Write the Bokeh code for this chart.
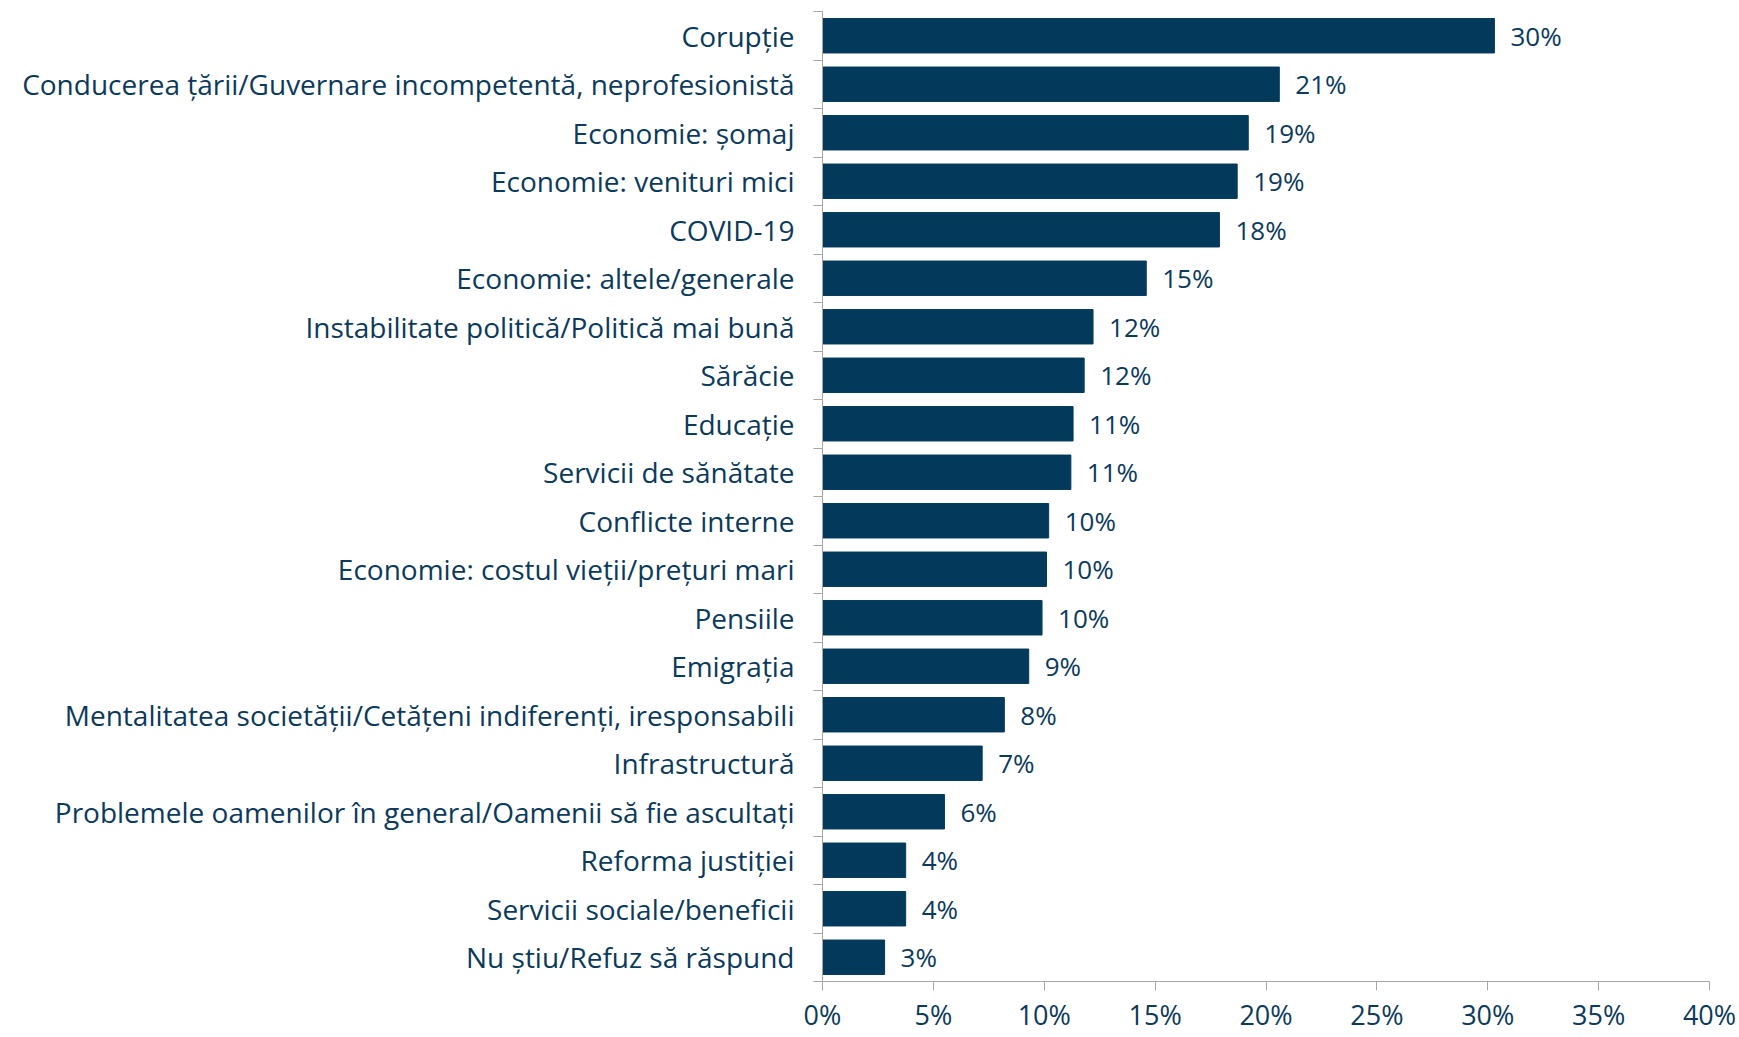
from bokeh.plotting import figure
from bokeh.models import ColumnDataSource, FixedTicker, Range1d, LinearAxis
from bokeh.core.properties import value
from bokeh.embed import file_html
from bokeh.resources import INLINE

categories = [
    "Corupție",
    "Conducerea țării/Guvernare incompetentă, neprofesionistă",
    "Economie: șomaj",
    "Economie: venituri mici",
    "COVID-19",
    "Economie: altele/generale",
    "Instabilitate politică/Politică mai bună",
    "Sărăcie",
    "Educație",
    "Servicii de sănătate",
    "Conflicte interne",
    "Economie: costul vieții/prețuri mari",
    "Pensiile",
    "Emigrația",
    "Mentalitatea societății/Cetățeni indiferenți, iresponsabili",
    "Infrastructură",
    "Problemele oamenilor în general/Oamenii să fie ascultați",
    "Reforma justiției",
    "Servicii sociale/beneficii",
    "Nu știu/Refuz să răspund",
]
values = [30.3, 20.6, 19.2, 18.7, 17.9, 14.6, 12.2, 11.8, 11.3, 11.2,
          10.2, 10.1, 9.9, 9.3, 8.2, 7.2, 5.5, 3.75, 3.75, 2.8]
value_labels = ["30%", "21%", "19%", "19%", "18%", "15%", "12%", "12%", "11%", "11%",
                "10%", "10%", "10%", "9%", "8%", "7%", "6%", "4%", "4%", "3%"]
x_ticks = [0, 5, 10, 15, 20, 25, 30, 35, 40]

n = len(categories)
ypos = [n - i - 0.5 for i in range(n)]

FONT = "Open Sans"
BAR = "#033A5C"
TXT = "#0B3A5C"
AX = "#A6A6A6"

src = ColumnDataSource(dict(y=ypos, v=values, lab=value_labels, cat=categories))

p = figure(width=1739, height=1037, output_backend="svg", toolbar_location=None,
           x_range=Range1d(0, 40), y_range=Range1d(0, n),
           min_border_left=822, min_border_right=30, min_border_top=11, min_border_bottom=56,
           x_axis_location=None, y_axis_location=None)
p.outline_line_color = None
p.xgrid.visible = False
p.ygrid.visible = False
p.background_fill_color = "white"

p.hbar(y="y", left=0, right="v", height=0.71, source=src, fill_color=BAR, line_color=BAR)
p.text(x="v", y="y", text="lab", source=src, x_offset=16, text_baseline="middle",
       text_align="left", text_font=value(FONT), text_font_size="26px", text_color=TXT)

xa = LinearAxis(ticker=FixedTicker(ticks=x_ticks))
xa.major_label_overrides = {t: f"{t}%" for t in x_ticks}
xa.axis_line_color = AX
xa.major_tick_line_color = AX
xa.major_tick_out = 9
xa.major_tick_in = 0
xa.minor_tick_line_color = None
xa.major_label_standoff = 5
xa.major_label_text_font = FONT
xa.major_label_text_font_size = "27px"
xa.major_label_text_color = TXT
p.add_layout(xa, "below")

ya = LinearAxis(ticker=FixedTicker(ticks=ypos, minor_ticks=list(range(n + 1))))
ya.major_label_overrides = {y: c for y, c in zip(ypos, categories)}
ya.axis_line_color = AX
ya.major_tick_line_color = None
ya.major_tick_out = 0
ya.major_tick_in = 0
ya.minor_tick_line_color = AX
ya.minor_tick_out = 9
ya.minor_tick_in = 0
ya.major_label_standoff = 19
ya.major_label_text_font = FONT
ya.major_label_text_font_size = "28px"
ya.major_label_text_color = TXT
p.add_layout(ya, "left")

open("out.html", "w").write(file_html(p, INLINE))
